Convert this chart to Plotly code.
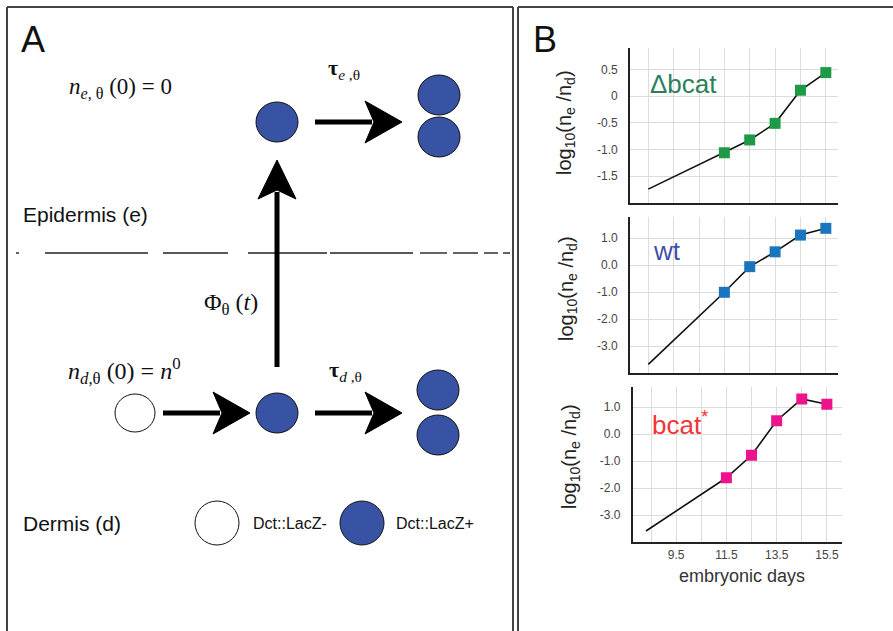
import plotly.graph_objects as go

W, H = 893, 631

# ---------------- data ----------------
days = [11.5, 12.5, 13.5, 14.5, 15.5]
dbcat_vals = [-1.06, -0.82, -0.51, 0.11, 0.44]
wt_vals = [-1.01, -0.06, 0.49, 1.11, 1.36]
bcat_vals = [-1.61, -0.78, 0.50, 1.31, 1.11]
# start of the extrapolated black line (day, value)
dbcat_start = (8.5, -1.74)
wt_start = (8.5, -3.68)
bcat_start = (8.3, -3.58)

grid_days = [8.5, 9.5, 10.5, 11.5, 12.5, 13.5, 14.5, 15.5]
x_ticktext = ["", "9.5", "", "11.5", "", "13.5", "", "15.5"]
y1_tickvals = [0.5, 0, -0.5, -1.0, -1.5]
y1_ticktext = ["0.5", "0", "-0.5", "-1.0", "-1.5"]
y23_tickvals = [1.0, 0.0, -1.0, -2.0, -3.0]
y23_ticktext = ["1.0", "0.0", "-1.0", "-2.0", "-3.0"]

series_labels = ["Δbcat", "wt", "bcat<sup>*</sup>"]
legend_labels = ["Dct::LacZ-", "Dct::LacZ+"]

# ---------------- helpers ----------------
def px(x):
    return x / W

def py(y):
    return 1 - y / H

fig = go.Figure()

marker_colors = ["#1e9a46", "#1b75bc", "#ec138c"]
label_colors = ["#2d7f5a", "#3f4fa5", "#f2333a"]
all_vals = [dbcat_vals, wt_vals, bcat_vals]
starts = [dbcat_start, wt_start, bcat_start]

for i in range(3):
    xa = "x" if i == 0 else f"x{i+1}"
    ya = "y" if i == 0 else f"y{i+1}"
    fig.add_trace(go.Scatter(
        x=[starts[i][0]] + days, y=[starts[i][1]] + all_vals[i],
        mode="lines", line=dict(color="#111111", width=1.6),
        xaxis=xa, yaxis=ya, showlegend=False, hoverinfo="skip"))
    fig.add_trace(go.Scatter(
        x=days, y=all_vals[i], mode="markers",
        marker=dict(symbol="square", size=11, color=marker_colors[i],
                    line=dict(width=0)),
        xaxis=xa, yaxis=ya, showlegend=False))

# axis pixel boxes: (left, right, top, bottom), x range, y range
boxes = [
    ((630, 838, 48, 203), [7.78, 15.98], [-2.0, 0.9]),
    ((630, 838, 217, 373), [7.78, 15.98], [-4.0, 1.78]),
    ((632.7, 841.7, 387, 542.3), [7.77, 16.09], [-4.0, 1.75]),
]

axis_common = dict(showgrid=True, gridcolor="#dcdcdc", gridwidth=1,
                   showline=True, linecolor="#222222", linewidth=1.6,
                   zeroline=False, ticks="", fixedrange=True)
layout_axes = {}
for i, ((l, r, t, b), xr, yr) in enumerate(boxes):
    xname = "xaxis" if i == 0 else f"xaxis{i+1}"
    yname = "yaxis" if i == 0 else f"yaxis{i+1}"
    xanchor = "y" if i == 0 else f"y{i+1}"
    yanchor = "x" if i == 0 else f"x{i+1}"
    layout_axes[xname] = dict(
        domain=[px(l), px(r)], range=xr, anchor=xanchor,
        tickvals=grid_days,
        ticktext=x_ticktext if i == 2 else [""] * len(grid_days),
        tickfont=dict(family="Liberation Sans, Arial, sans-serif", size=12, color="#444"),
        **axis_common)
    layout_axes[yname] = dict(
        domain=[py(b), py(t)], range=yr, anchor=yanchor,
        tickvals=y1_tickvals if i == 0 else y23_tickvals,
        ticktext=y1_ticktext if i == 0 else y23_ticktext,
        tickfont=dict(family="Liberation Sans, Arial, sans-serif", size=12, color="#444"),
        ticklabelstandoff=8,
        **axis_common)

annotations = []

def txt(x, y, text, size, color="#111", family="Liberation Sans, Arial, sans-serif",
        xanchor="left", yanchor="middle", angle=0):
    annotations.append(dict(x=px(x), y=py(y), xref="paper", yref="paper", text=text,
                            showarrow=False, xanchor=xanchor, yanchor=yanchor,
                            textangle=angle,
                            font=dict(family=family, size=size, color=color)))

# panel B labels
txt(648, 84, series_labels[0], 26, label_colors[0])
txt(651, 251, series_labels[1], 26, label_colors[1])
txt(650, 423, series_labels[2], 26, label_colors[2])

ytitle = "log<sub>10</sub>(n<sub>e</sub> /n<sub>d</sub>)"
txt(565, 123, ytitle, 20, "#222", xanchor="center", angle=-90)
txt(567, 289, ytitle, 20, "#222", xanchor="center", angle=-90)
txt(571, 457, ytitle, 20, "#222", xanchor="center", angle=-90)
txt(742, 576, "embryonic days", 18, "#333", xanchor="center")

# panel letters
txt(19, 40, "A", 36, "#111")
txt(531, 40, "B", 36, "#111")

# panel A texts
serif = "Liberation Serif, Times New Roman, serif"
txt(21, 215, "Epidermis (e)", 21, "#111")
txt(21, 523, "Dermis (d)", 21, "#111")
txt(251, 523, legend_labels[0], 16, "#111")
txt(394, 523, legend_labels[1], 16, "#111")
txt(67, 88, "<i>n</i><sub><i>e</i>, θ</sub> (0) = 0", 23, "#111", family=serif)
txt(326, 69, "<b>τ</b><sub><i>e</i> ,θ</sub>", 22, "#111", family=serif)
txt(202, 304, "Φ<sub>θ</sub> (<i>t</i>)", 24, "#111", family=serif)
txt(66, 371, "<i>n</i><sub><i>d</i>,θ</sub> (0) = <i>n</i><sup>0</sup>", 24, "#111", family=serif)
txt(327, 371, "<b>τ</b><sub><i>d</i> ,θ</sub>", 22, "#111", family=serif)

shapes = []
BLUE = "#3953a4"

def line(x0, y0, x1, y1, width=1.5, color="#333"):
    shapes.append(dict(type="line", xref="paper", yref="paper",
                       x0=px(x0), y0=py(y0), x1=px(x1), y1=py(y1),
                       line=dict(color=color, width=width)))

def circle(cx, cy, rx, ry, fill):
    shapes.append(dict(type="circle", xref="paper", yref="paper",
                       x0=px(cx - rx), x1=px(cx + rx), y0=py(cy + ry), y1=py(cy - ry),
                       fillcolor=fill, line=dict(color="#111", width=1)))

def path(points):
    d = "M " + " L ".join(f"{px(x)},{py(y)}" for x, y in points) + " Z"
    shapes.append(dict(type="path", xref="paper", yref="paper", path=d,
                       fillcolor="#000", line=dict(color="#000", width=1)))

def arrow_right(x0, tip, y):
    line(x0, y, tip - 30, y, width=5, color="#000")
    path([(tip, y), (tip - 37, y - 21), (tip - 28, y), (tip - 37, y + 21)])

# panel borders
line(7, 7, 513, 7, 2, "#444")
line(7, 7, 7, 631, 2, "#444")
line(513, 7, 513, 631, 2, "#444")
line(518, 7, 893, 7, 2, "#444")
line(518, 7, 518, 631, 2, "#444")

# dashed boundary
dash_segments = [(16, 19), (45, 148), (163, 228), (248, 327), (330, 413),
                 (420, 447), (453, 478), (484, 498), (503, 510)]
for a, b in dash_segments:
    line(a, 253, b, 253, 1.4, "#222")

# vertical arrow
line(277, 367, 277, 192, width=5, color="#000")
path([(277, 160), (258, 199), (277, 190), (296, 199)])

# arrows
arrow_right(315, 402, 122)
arrow_right(163, 250, 413)
arrow_right(315, 402, 413)

# cells
circle(277, 122, 21, 20, BLUE)
circle(439, 95, 21, 20, BLUE)
circle(439, 137, 21, 20, BLUE)
circle(135, 413, 20, 19, "white")
circle(277, 413, 21, 20, BLUE)
circle(438, 390, 21, 20, BLUE)
circle(438, 435, 21, 20, BLUE)
circle(217, 523, 22, 22, "white")
circle(362, 523, 22, 22, BLUE)

fig.update_layout(
    width=W, height=H, margin=dict(l=0, r=0, t=0, b=0),
    paper_bgcolor="white", plot_bgcolor="white",
    showlegend=False, shapes=shapes, annotations=annotations,
    **layout_axes)

fig.write_html("out.html")
